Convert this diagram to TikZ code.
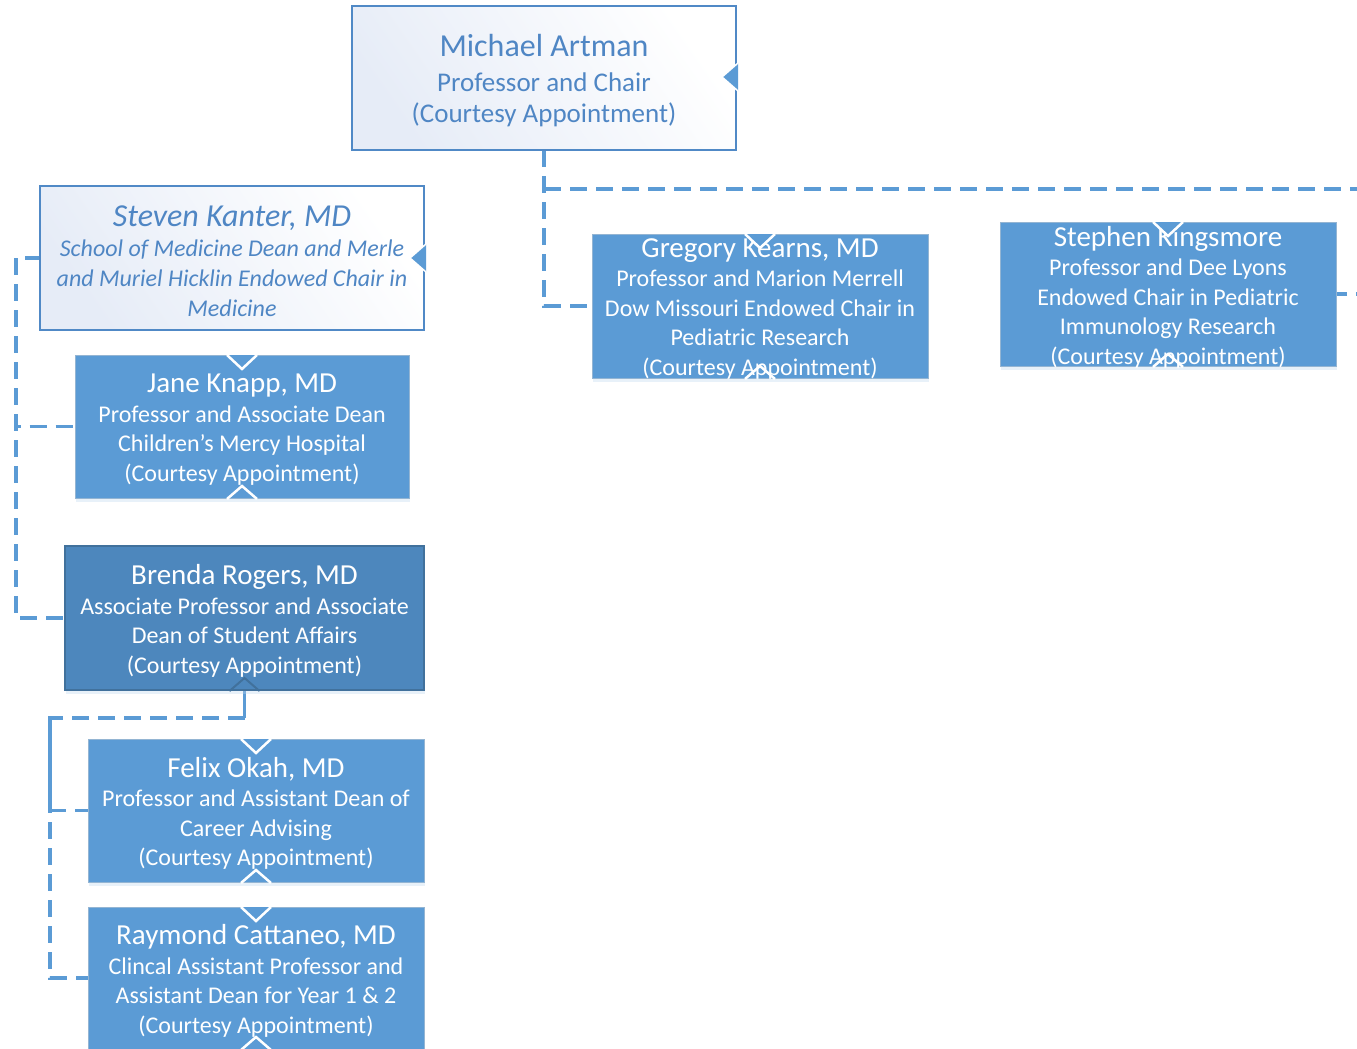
\documentclass[tikz,border=0pt]{standalone}
\usepackage{fontspec}
\setmainfont{Carlito}
\usetikzlibrary{shadows,backgrounds}
\definecolor{acc}{HTML}{5B9BD5}
\definecolor{accdark}{HTML}{4D87BD}
\definecolor{accborder}{HTML}{41719C}
\definecolor{lighttext}{HTML}{4F86C4}
\definecolor{lightborder}{HTML}{5089C6}
\definecolor{lightfill}{HTML}{E6ECF7}
\newcommand\ttl[1]{{\fontsize{29}{31}\selectfont #1}}
\begin{document}
\begin{tikzpicture}[x=1pt,y=-1pt,
  box/.style={anchor=north west, inner sep=0pt, outer sep=0pt},
  txt/.style={inner sep=0pt, outer sep=0pt, align=center, font=\fontsize{24}{29.5}\selectfont},
  bluebox/.style={box, fill=acc, draw=acc!85!black!60!white, line width=1pt,
    drop shadow={shadow xshift=1pt, shadow yshift=-4pt, fill=acc!40!white, opacity=0.35}},
  darkbox/.style={box, fill=accdark, draw=accborder, line width=1.5pt,
    drop shadow={shadow xshift=1pt, shadow yshift=-4pt, fill=acc!40!white, opacity=0.35}},
  lightbox/.style={box, shading=axis, left color=lightfill, right color=white, shading angle=125,
    draw=lightborder, line width=1.6pt},
  conn/.style={draw=acc, line width=3.5pt, dash pattern=on 17pt off 9pt},
  solidconn/.style={draw=acc, line width=3.5pt},
  notch/.style={draw=white, line width=2.5pt, line join=miter},
]
\useasboundingbox (0,0) rectangle (1357,1049);
\clip (0,0) rectangle (1357,1049);

% boxes
\node[lightbox, minimum width=384pt, minimum height=144pt] (artman) at (352,6) {};
\node[lightbox, minimum width=384pt, minimum height=144pt] (kanter) at (40,186) {};
\node[bluebox, minimum width=336pt, minimum height=144pt] (kearns) at (592,234) {};
\node[bluebox, minimum width=336pt, minimum height=144pt] (kingsmore) at (1000,222) {};
\node[bluebox, minimum width=334pt, minimum height=143pt] (knapp) at (75,355) {};
\node[darkbox, minimum width=359pt, minimum height=144pt] (rogers) at (65,546) {};
\node[bluebox, minimum width=336pt, minimum height=143pt] (okah) at (88,739) {};
\node[bluebox, minimum width=336pt, minimum height=142pt] (cattaneo) at (88,907) {};

% texts
\node[txt, text=lighttext, font=\fontsize{27}{31.5}\selectfont] (artmanT) at ([yshift=-3pt]artman.center)
  {{\fontsize{32}{36}\selectfont Michael Artman}\\[3pt]Professor and Chair\\(Courtesy Appointment)};
\node[txt, text=lighttext, font=\fontsize{24}{30}\selectfont\itshape] (kanterT) at ([yshift=-3pt]kanter.center)
  {{\fontsize{32}{33}\selectfont Steven Kanter, MD}\\School of Medicine Dean and Merle\\and Muriel Hicklin Endowed Chair in\\Medicine};
\node[txt, text=white] (kearnsT) at ([yshift=-3pt]kearns.center)
  {\ttl{Gregory Kearns, MD}\\Professor and Marion Merrell\\Dow Missouri Endowed Chair in\\Pediatric Research\\(Courtesy Appointment)};
\node[txt, text=white] (kingsmoreT) at ([yshift=-3pt]kingsmore.center)
  {\ttl{Stephen Kingsmore}\\Professor and Dee Lyons\\Endowed Chair in Pediatric\\Immunology Research\\(Courtesy Appointment)};
\node[txt, text=white] (knappT) at ([yshift=-3pt]knapp.center)
  {\ttl{Jane Knapp, MD}\\Professor and Associate Dean\\Children’s Mercy Hospital\\(Courtesy Appointment)};
\node[txt, text=white] (rogersT) at ([yshift=-3pt]rogers.center)
  {\ttl{Brenda Rogers, MD}\\Associate Professor and Associate\\Dean of Student Affairs\\(Courtesy Appointment)};
\node[txt, text=white] (okahT) at ([yshift=-3pt]okah.center)
  {\ttl{Felix Okah, MD}\\Professor and Assistant Dean of\\Career Advising\\(Courtesy Appointment)};
\node[txt, text=white] (cattaneoT) at ([yshift=-3pt]cattaneo.center)
  {\ttl{Raymond Cattaneo, MD}\\Clincal Assistant Professor and\\Assistant Dean for Year 1 \& 2\\(Courtesy Appointment)};

\coordinate (artbr) at (544,189);
\coordinate (offr) at (1400,189);
\coordinate (offr2) at (1400,294);
\coordinate (kanl) at (16,258);
\coordinate (rogb) at (244.5,718);
\coordinate (rogl) at (50,718);

% connectors behind the boxes
\begin{scope}[on background layer]
\draw[conn] (artman.south) |- (kearns.west);
\draw[conn] (artbr) -- (offr) -- (offr2) -- (kingsmore.east);
\draw[solidconn] (kanter.west) -- (25,258);
\draw[conn] (kanl) |- (knapp.west);
\draw[conn] (kanl) |- (rogers.west);
\draw[solidconn] (rogers.south) -- (rogb);
\draw[conn] (rogb) -- (rogl) |- (okah.west);
\draw[conn] (rogl) |- (cattaneo.west);
\end{scope}

% notches on box edges
\foreach \n in {knapp,kearns,kingsmore,okah,cattaneo}{
  \fill[acc] ([xshift=-14pt]\n.north) -- ++(14,14) -- ++(14,-14) -- cycle;
  \draw[notch] ([xshift=-15pt]\n.north) -- ++(15,14) -- ++(15,-14);
  \draw[notch] ([xshift=-15pt,yshift=-1pt]\n.south) -- ++(15,-13) -- ++(15,13);
}
\draw[accborder, line width=2pt] ([xshift=-15pt,yshift=-1pt]rogers.south) -- ++(15,-13) -- ++(15,13);
\filldraw[fill=acc, draw=white, line width=1.5pt] (738,63) -- (722,77) -- (738,91);
\filldraw[fill=acc, draw=white, line width=1.5pt] (426,244) -- (410,258) -- (426,272);
\end{tikzpicture}
\end{document}
